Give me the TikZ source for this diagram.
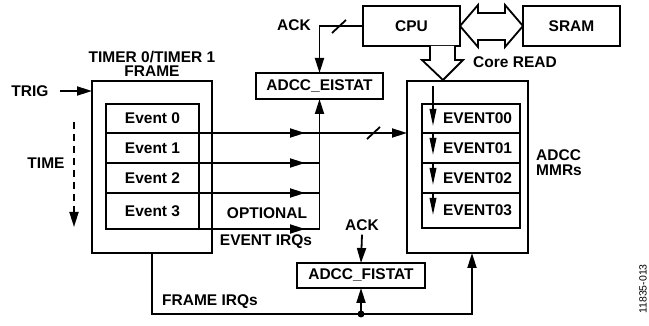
\documentclass[tikz,border=0pt]{standalone}
\usepackage{fontspec}
\setmainfont{Liberation Sans}
\usetikzlibrary{arrows.meta}

\tikzset{
  box/.style={draw, line width=1.8pt, inner sep=0pt, outer sep=0pt},
  evrow/.style={box, minimum width=93pt},
  mmrrow/.style={box, text width=82pt, inner xsep=8pt, align=right},
  tip/.style={-{Triangle[length=15pt,width=9pt]}},
  smalltip/.style={-{Triangle[length=17pt,width=6.5pt]}},
}

\begin{document}
\begin{tikzpicture}[x=1pt,y=-1pt,line width=1.8pt,font=\fontsize{15.5}{14.5}\selectfont\bfseries]
			\useasboundingbox (0,0) rectangle (649,326);
			% Khung TIMER
			\node[box, minimum width=120pt, minimum height=172pt] (timer) at (152,167) {};
			\node[align=center] (timerlbl) at (152,64) {TIMER 0/TIMER 1\\FRAME};
			\node[evrow, minimum height=29pt] (ev0) at (152.5,118.5) {Event 0};
			\node[evrow, minimum height=30pt] (ev1) at (152.5,148) {Event 1};
			\node[evrow, minimum height=30pt] (ev2) at (152.5,178) {Event 2};
			\node[evrow, minimum height=36pt] (ev3) at (152.5,211) {Event 3};
			\node (trig) at (30,91) {TRIG};
			\draw[tip] ([xshift=7pt]trig.east) -- (trig.east -| timer.west);
			\node (time) at (46,163) {TIME};
			\coordinate (timetop) at (74,122);
			\draw[tip, dash pattern=on 7pt off 5pt] (timetop) -- (74,227);
			% CPU va SRAM
			\node[box, minimum width=97pt, minimum height=40pt] (cpu) at (411.5,26) {CPU};
			\node[box, minimum width=97pt, minimum height=40pt] (sram) at (571.5,26) {SRAM};
			\draw[fill=white, line join=miter] (cpu.east) -- (478,5) -- (478,13) -- (505,13) -- (505,5)
				-- (sram.west) -- (505,47) -- (505,40) -- (478,40) -- (478,47) -- cycle;
			\draw[fill=white, line join=miter] (430,46) -- (430,60) -- (422,60) -- (443,80) -- (463,60) -- (455,60) -- (455,46);
			\node (coreread) at (515,62) {Core READ};
			% Thanh ghi ADCC
			\node[box, minimum width=121pt, minimum height=172pt] (mmr) at (467.5,167) {};
			\node[mmrrow, minimum height=29pt] (r0) at (471,118.5) {EVENT00};
			\node[mmrrow, minimum height=30pt] (r1) at (471,148) {EVENT01};
			\node[mmrrow, minimum height=30pt] (r2) at (471,178) {EVENT02};
			\node[mmrrow, minimum height=35pt] (r3) at (471,210.5) {EVENT03};
			\node[anchor=west, align=left, font=\fontsize{15.5}{15}\selectfont\bfseries] (mmrlbl) at (532,162.5) {ADCC\\MMRs};
			\draw[smalltip] (433,86) -- (433,126);
			\draw[smalltip] (r1.north -| 433,0) -- (433,155);
			\draw[smalltip] (r2.north -| 433,0) -- (433,185);
			\draw[smalltip] (r3.north -| 433,0) -- (433,215);
			% ADCC_EISTAT
			\node[box, minimum width=127pt, minimum height=26pt] (eistat) at (319.5,86) {ADCC\_EISTAT};
			\node (ack1) at (294,25) {ACK};
			\draw[tip] (cpu.west) -| (eistat.north);
			\draw (332,33) -- (346,20);
			\coordinate (bus) at (eistat.south |- ev3.south east);
			\draw[tip] (bus) -- (eistat.south);
			\draw[tip] (ev0.south east) -- (305,133);
			\draw[tip] (ev0.south east) -- (mmr.west |- ev0.south east);
			\draw (367,139) -- (380,127);
			\draw[tip] (ev1.south east) -- (305,163);
			\draw (ev1.south east) -- (bus |- ev1.south east);
			\draw[tip] (ev2.south east) -- (305,193);
			\draw (ev2.south east) -- (bus |- ev2.south east);
			\draw[tip] (ev3.south east) -- (305,229);
			\draw (ev3.south east) -- (bus);
			\node (optional) at (267,213) {OPTIONAL};
			\node (evirq) at (266,242) {EVENT IRQs};
			% ADCC_FISTAT
			\node[box, minimum width=128pt, minimum height=25pt] (fistat) at (361,275.5) {ADCC\_FISTAT};
			\node (ack2) at (362,225) {ACK};
			\draw[tip] (ack2.south) -- (fistat.north);
			\coordinate (dot) at (fistat.south |- 0,314);
			\draw[tip] (timer.south) |- (dot) -| ([xshift=4.5pt]mmr.south);
			\draw[tip] (dot) -- (fistat.south);
			\fill (dot) circle (3.5pt);
			\node (frameirq) at (210,302) {FRAME IRQs};
			\node[font=\fontsize{10.5}{12}\selectfont, rotate=90] (figid) at (643,289) {11835-013};
		\end{tikzpicture}
\end{document}
